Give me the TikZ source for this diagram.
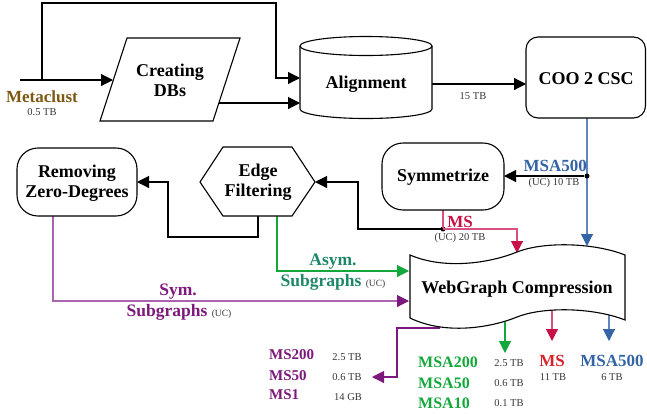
\documentclass[tikz,border=0pt]{standalone}
\usepackage{fontspec}
\setmainfont{Liberation Serif}
\usetikzlibrary{arrows.meta}

\definecolor{mcbrown}{RGB}{125,88,18}
\definecolor{msablue}{RGB}{52,100,165}
\definecolor{msablueline}{RGB}{95,135,190}
\definecolor{mscrim}{RGB}{200,16,70}
\definecolor{mspink}{RGB}{215,80,130}
\definecolor{msred}{RGB}{215,35,45}
\definecolor{msagreen}{RGB}{20,168,60}
\definecolor{asymteal}{RGB}{30,135,105}
\definecolor{sympurple}{RGB}{125,25,125}
\definecolor{sympurpleline}{RGB}{170,100,175}
\definecolor{notegray}{RGB}{55,55,55}

\begin{document}
\begin{tikzpicture}[x=1pt,y=-1pt, line join=miter,
  shapeline/.style={draw=black, line width=1.1pt, fill=white},
  link/.style={line width=1.1pt},
  tip/.style={-{Triangle[length=12pt,width=12pt]}},
  ctip/.style={-{Triangle[length=12pt,width=12pt,color=#1]}},
  lbl/.style={font=\bfseries\fontsize{18}{20}\selectfont, align=center, inner sep=0pt},
  key/.style={font=\bfseries\fontsize{17}{19}\selectfont, inner sep=0pt},
  keybig/.style={font=\bfseries\fontsize{17.5}{19}\selectfont, inner sep=0pt},
  keymid/.style={font=\bfseries\fontsize{16}{18}\selectfont, inner sep=0pt},
  keysm/.style={font=\bfseries\fontsize{15}{17}\selectfont, inner sep=0pt},
  note/.style={font=\fontsize{10.5}{12}\selectfont, text=notegray, inner sep=0pt},
  joint/.style={circle, fill=black, inner sep=0pt, minimum size=5pt}]

\useasboundingbox (0,0) rectangle (647,413);

% ---- connection points -------------------------------------------
\coordinate (src)        at (20,80);
\coordinate (fork)       at (42,80);
\coordinate (loop)       at (276,3);
\coordinate (cdb-in)     at (113,80);
\coordinate (cdb-out)    at (219,103);
\coordinate (aln-in1)    at (300,78);
\coordinate (aln-in2)    at (300,103);
\coordinate (aln-out)    at (432,84);
\coordinate (coo-in)     at (526,84);
\coordinate (coo-out)    at (587,118);
\coordinate (wg-in-msa)  at (587,246);
\coordinate (sym-in)     at (504,176);
\coordinate (sym-out)    at (443,210);
\coordinate (wg-in-ms)   at (517,253);
\coordinate (ef-bend)    at (358,182);
\coordinate (ef-in)      at (315,182);
\coordinate (ef-out)     at (258,216);
\coordinate (ef-out2)    at (277,216);
\coordinate (rz-bend)    at (168,237);
\coordinate (rz-in)      at (137,182);
\coordinate (rz-out)     at (53,216);
\coordinate (wg-in-asym) at (409,271);
\coordinate (wg-in-sym)  at (409,301);
\coordinate (wg-out-sym) at (440,328);
\coordinate (out-bend)   at (397,328);
\coordinate (ms-list)    at (372,377);
\coordinate (wg-out-msa) at (505,305);
\coordinate (msa-list)   at (505,353);
\coordinate (wg-out-ms)  at (552,300);
\coordinate (ms-out)     at (552,341);
\coordinate (wg-out-big) at (609,300);
\coordinate (big-out)    at (609,341);

% ---- connectors ----------------------------------------------------
\draw[link,tip] (src) -- (cdb-in);
\draw[link,tip] (fork) |- (loop) |- (aln-in1);
\draw[link,tip] (cdb-out) -- (aln-in2);
\draw[link,tip] (aln-out) -- (coo-in);

\draw[link, draw=msablueline, ctip=msablue] (coo-out) -- (wg-in-msa);
\node[joint] (msa-j) at (587,176) {};
\draw[link,tip] (msa-j) -- (sym-in);

\node[joint] (ms-j) at (443,229) {};
\draw[link, draw=mspink] (sym-out) -- (ms-j.center);
\draw[link, draw=mspink, ctip=mscrim] (ms-j.center) -| (wg-in-ms);
\draw[link,tip] (ms-j.center) -| (ef-bend) -- (ef-in);

\draw[link,tip] (ef-out) |- (rz-bend) |- (rz-in);
\draw[link, draw=msagreen, ctip=msagreen] (ef-out2) |- (wg-in-asym);
\draw[link, draw=sympurpleline, ctip=sympurple] (rz-out) |- (wg-in-sym);

\draw[link, draw=sympurple, ctip=sympurple] (wg-out-sym) -- (out-bend) |- (ms-list);
\draw[link, draw=msagreen, ctip=msagreen] (wg-out-msa) -- (msa-list);
\draw[link, draw=mspink, ctip=mscrim] (wg-out-ms) -- (ms-out);
\draw[link, draw=msablueline, ctip=msablue] (wg-out-big) -- (big-out);

% ---- shapes --------------------------------------------------------
% parallelogram
\path[shapeline] (127,38) -- (240,38) -- (213,121) -- (100,121) -- cycle;
% cylinder
\path[shapeline] (300,46) -- (300,109)
  arc[start angle=180, end angle=0, x radius=66, y radius=9.5] -- (432,46)
  arc[start angle=0, end angle=-180, x radius=66, y radius=9.5] -- cycle;
\draw[line width=1.1pt] (300,46) arc[start angle=180, end angle=0, x radius=66, y radius=9.5];
% rounded boxes
\path[shapeline, rounded corners=12pt] (526,37) rectangle (645.5,118);
\path[shapeline, rounded corners=21pt] (382,143) rectangle (504,210);
\path[shapeline, rounded corners=21pt] (17,148) rectangle (137,216);
% hexagon
\path[shapeline] (200,182) -- (223,147) -- (292,147) -- (315,182) -- (292,216) -- (223,216) -- cycle;
% tape
\path[shapeline] (410,255) .. controls (445,270) and (490,263) .. (517,252)
  .. controls (545,241) and (595,243) .. (625,255) -- (625,320)
  .. controls (595,308) and (545,306) .. (517,317)
  .. controls (490,328) and (445,335) .. (410,318) -- cycle;

% ---- labels in shapes ----------------------------------------------
\node[lbl] (cdb) at (170,80) {Creating\\DBs};
\node[lbl] (aln) at (366,84) {Alignment};
\node[lbl] (coo) at (586,79) {COO 2 CSC};
\node[lbl] (sym) at (443,177) {Symmetrize};
\node[lbl] (ef)  at (258,182) {Edge\\Filtering};
\node[lbl] (rz)  at (77,183) {Removing\\Zero-Degrees};
\node[lbl] (wg)  at (517,289) {WebGraph Compression};

% ---- data labels ---------------------------------------------------
\node[key, text=mcbrown] (mc) at (42,97) {Metaclust};
\node[note] (mc-size) at (42,112) {0.5 TB};
\node[note] (aln-size) at (473,96) {15 TB};

\node[key, text=msablue, anchor=east] (msa-lbl) at (587,166) {MSA500};
\node[note] (msa-size) at (554,183) {(UC) 10 TB};
\node[key, text=mscrim] (ms-lbl) at (460,222) {MS};
\node[note] (ms-size) at (460,238) {(UC) 20 TB};

\node[keybig, text=asymteal] (asym1) at (333,262) {Asym.};
\node[keybig, text=asymteal] (asym2) at (333,282) {Subgraphs {\normalfont\fontsize{9.5}{11}\selectfont\color{notegray}(UC)}};
\node[keybig, text=sympurple] (sym1) at (178,292) {Sym.};
\node[keybig, text=sympurple] (sym2) at (179,312) {Subgraphs {\normalfont\fontsize{9.5}{11}\selectfont\color{notegray}(UC)}};

% output lists
\node[keysm, text=sympurple, anchor=west] (ms200) at (269,355) {MS200};
\node[keysm, text=sympurple, anchor=west] (ms50)  at (269,376) {MS50};
\node[keysm, text=sympurple, anchor=west] (ms1)   at (269,395) {MS1};
\node[note] (ms200-s) at (347,357) {2.5 TB};
\node[note] (ms50-s)  at (347,377) {0.6 TB};
\node[note] (ms1-s)   at (348,397) {14 GB};

\node[keymid, text=msagreen, anchor=west] (msa200) at (418,362) {MSA200};
\node[keymid, text=msagreen, anchor=west] (msa50)  at (418,383) {MSA50};
\node[keymid, text=msagreen, anchor=west] (msa10)  at (418,403) {MSA10};
\node[note] (msa200-s) at (509,363) {2.5 TB};
\node[note] (msa50-s)  at (509,383) {0.6 TB};
\node[note] (msa10-s)  at (509,403) {0.1 TB};

\node[key, text=msred] (ms-out-lbl) at (552,361) {MS};
\node[note] (ms-out-s) at (553,377) {11 TB};
\node[key, text=msablue] (big-lbl) at (612,361) {MSA500};
\node[note] (big-s) at (612,377) {6 TB};
\end{tikzpicture}
\end{document}
